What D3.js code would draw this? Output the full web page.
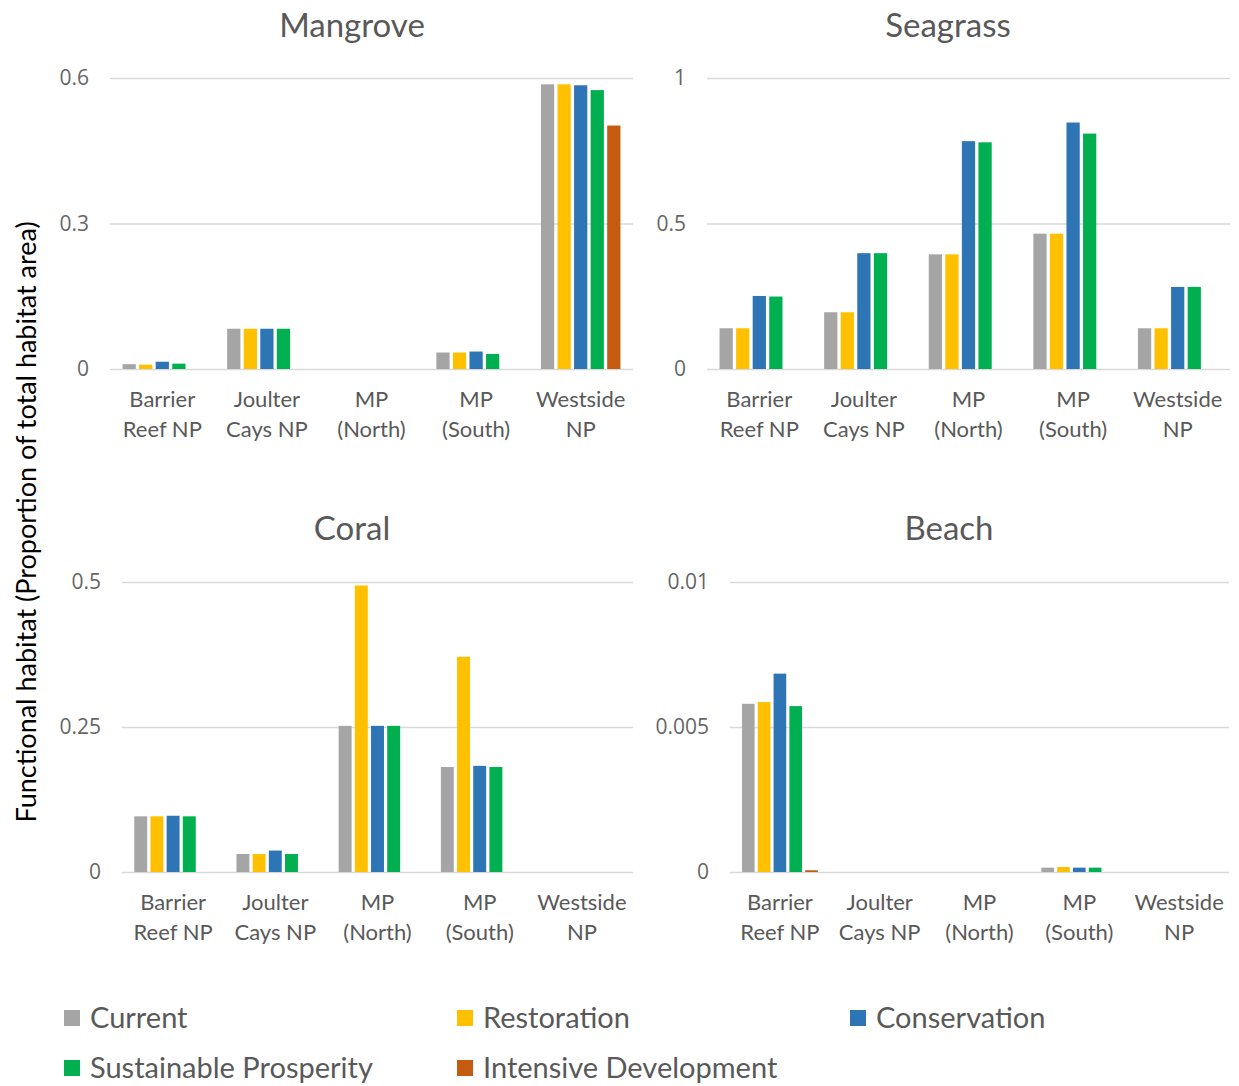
<!DOCTYPE html>
<html><head><meta charset="utf-8">
<script src="https://cdn.jsdelivr.net/npm/d3@7"></script>
<style>
html,body{margin:0;padding:0;background:#fff;}
svg text{font-family:"Lato","Noto Sans",sans-serif;}
</style></head>
<body><svg id="chart" width="1239" height="1086"></svg>
<script>
const categories = ["Barrier Reef NP","Joulter Cays NP","MP (North)","MP (South)","Westside NP"];
const categoryLines = [["Barrier","Reef NP"],["Joulter","Cays NP"],["MP","(North)"],["MP","(South)"],["Westside","NP"]];
const scenarios = ["Current","Restoration","Conservation","Sustainable Prosperity","Intensive Development"];
const colors = ["#A5A5A5","#FFC000","#2E75B6","#00B050","#C55A11"];

// values per scenario, ordered by categories
const mangroveCurrent      = [0.010, 0.083, 0, 0.034, 0.587];
const mangroveRestoration  = [0.009, 0.083, 0, 0.034, 0.587];
const mangroveConservation = [0.015, 0.083, 0, 0.036, 0.585];
const mangroveSustainable  = [0.011, 0.083, 0, 0.031, 0.575];
const mangroveIntensive    = [0, 0, 0, 0, 0.502];

const seagrassCurrent      = [0.140, 0.195, 0.394, 0.465, 0.140];
const seagrassRestoration  = [0.140, 0.195, 0.394, 0.465, 0.140];
const seagrassConservation = [0.251, 0.398, 0.783, 0.847, 0.282];
const seagrassSustainable  = [0.249, 0.398, 0.779, 0.809, 0.282];
const seagrassIntensive    = [0, 0, 0, 0, 0];

const coralCurrent      = [0.096, 0.031, 0.252, 0.181, 0];
const coralRestoration  = [0.096, 0.031, 0.494, 0.371, 0];
const coralConservation = [0.097, 0.037, 0.252, 0.183, 0];
const coralSustainable  = [0.096, 0.031, 0.252, 0.181, 0];
const coralIntensive    = [0, 0, 0, 0, 0];

const beachCurrent      = [0.0058, 0, 0, 0.00015, 0];
const beachRestoration  = [0.00586, 0, 0, 0.00017, 0];
const beachConservation = [0.00684, 0, 0, 0.00015, 0];
const beachSustainable  = [0.00572, 0, 0, 0.00015, 0];
const beachIntensive    = [0.00006, 0, 0, 0, 0];

const mangroveTicks = [0, 0.3, 0.6];
const seagrassTicks = [0, 0.5, 1];
const coralTicks = [0, 0.25, 0.5];
const beachTicks = [0, 0.005, 0.01];
const mangroveTickLabels = ["0","0.3","0.6"];
const seagrassTickLabels = ["0","0.5","1"];
const coralTickLabels = ["0","0.25","0.5"];
const beachTickLabels = ["0","0.005","0.01"];

const panels = [
  {title:"Mangrove", series:[mangroveCurrent,mangroveRestoration,mangroveConservation,mangroveSustainable,mangroveIntensive], ticks:mangroveTicks, tickLabels:mangroveTickLabels, x0:110, x1:633, yTop:78, yBot:369, titleX:352, titleY:25},
  {title:"Seagrass", series:[seagrassCurrent,seagrassRestoration,seagrassConservation,seagrassSustainable,seagrassIntensive], ticks:seagrassTicks, tickLabels:seagrassTickLabels, x0:707, x1:1230, yTop:78, yBot:369, titleX:948, titleY:25},
  {title:"Coral", series:[coralCurrent,coralRestoration,coralConservation,coralSustainable,coralIntensive], ticks:coralTicks, tickLabels:coralTickLabels, x0:122, x1:633, yTop:582, yBot:872, titleX:352, titleY:528},
  {title:"Beach", series:[beachCurrent,beachRestoration,beachConservation,beachSustainable,beachIntensive], ticks:beachTicks, tickLabels:beachTickLabels, x0:730, x1:1229, yTop:582, yBot:872, titleX:949, titleY:528}
];

const svg = d3.select("#chart");
const textColor = "#595959";

panels.forEach(p => {
  const g = svg.append("g");
  const x = d3.scaleBand().domain(categories).range([p.x0, p.x1]).paddingInner(0.24).paddingOuter(0.12);
  const xs = d3.scaleBand().domain(scenarios).range([0, x.bandwidth()]).paddingInner(0.2);
  const y = d3.scaleLinear().domain([0, p.ticks[p.ticks.length-1]]).range([p.yBot, p.yTop]);

  // gridlines
  const yAxis = d3.axisLeft(y).tickValues(p.ticks).tickSize(-(p.x1 - p.x0)).tickPadding(21)
    .tickFormat((d,i) => p.tickLabels[i]);
  const ag = g.append("g").attr("transform", `translate(${p.x0},0)`).call(yAxis);
  ag.select(".domain").remove();
  ag.selectAll(".tick line").attr("stroke", "#D9D9D9").attr("stroke-width", 1.3);
  ag.selectAll(".tick text").attr("fill", "#666").attr("font-size", 21).style("font-family","'Open Sans',sans-serif");

  // bars
  scenarios.forEach((s, si) => {
    g.selectAll(null).data(p.series[si]).enter().append("rect")
      .attr("x", (d,i) => x(categories[i]) + xs(s))
      .attr("width", xs.bandwidth())
      .attr("y", d => y(d))
      .attr("height", d => p.yBot - y(d))
      .attr("fill", colors[si]);
  });

  // category labels
  const xl = g.append("g");
  categories.forEach((c, i) => {
    const t = xl.append("text").attr("x", x(c) + x.bandwidth()/2).attr("y", p.yBot + 38)
      .attr("text-anchor","middle").attr("fill", textColor).attr("font-size", 22);
    categoryLines[i].forEach((ln, li) => {
      t.append("tspan").attr("x", x(c) + x.bandwidth()/2).attr("dy", li === 0 ? 0 : 30).text(ln);
    });
  });

  // title
  g.append("text").attr("x", p.titleX).attr("y", p.titleY).attr("dy","0.35em")
    .attr("text-anchor","middle").attr("fill", textColor).attr("font-size", 33).text(p.title);
});

// y axis title
svg.append("text").attr("transform","translate(27,522) rotate(-90)")
  .attr("text-anchor","middle").attr("dy","0.35em").attr("fill","#000").attr("font-size", 27)
  .text("Functional habitat (Proportion of total habitat area)");

// legend
const legendPos = [[64,1018],[457,1018],[850,1018],[64,1068],[457,1068]];
scenarios.forEach((s, i) => {
  const [lx, ly] = legendPos[i];
  svg.append("rect").attr("x", lx).attr("y", ly - 8).attr("width", 16).attr("height", 16).attr("fill", colors[i]);
  svg.append("text").attr("x", lx + 26).attr("y", ly).attr("dy","0.35em")
    .attr("fill", textColor).attr("font-size", 29).text(s);
});
</script></body></html>
